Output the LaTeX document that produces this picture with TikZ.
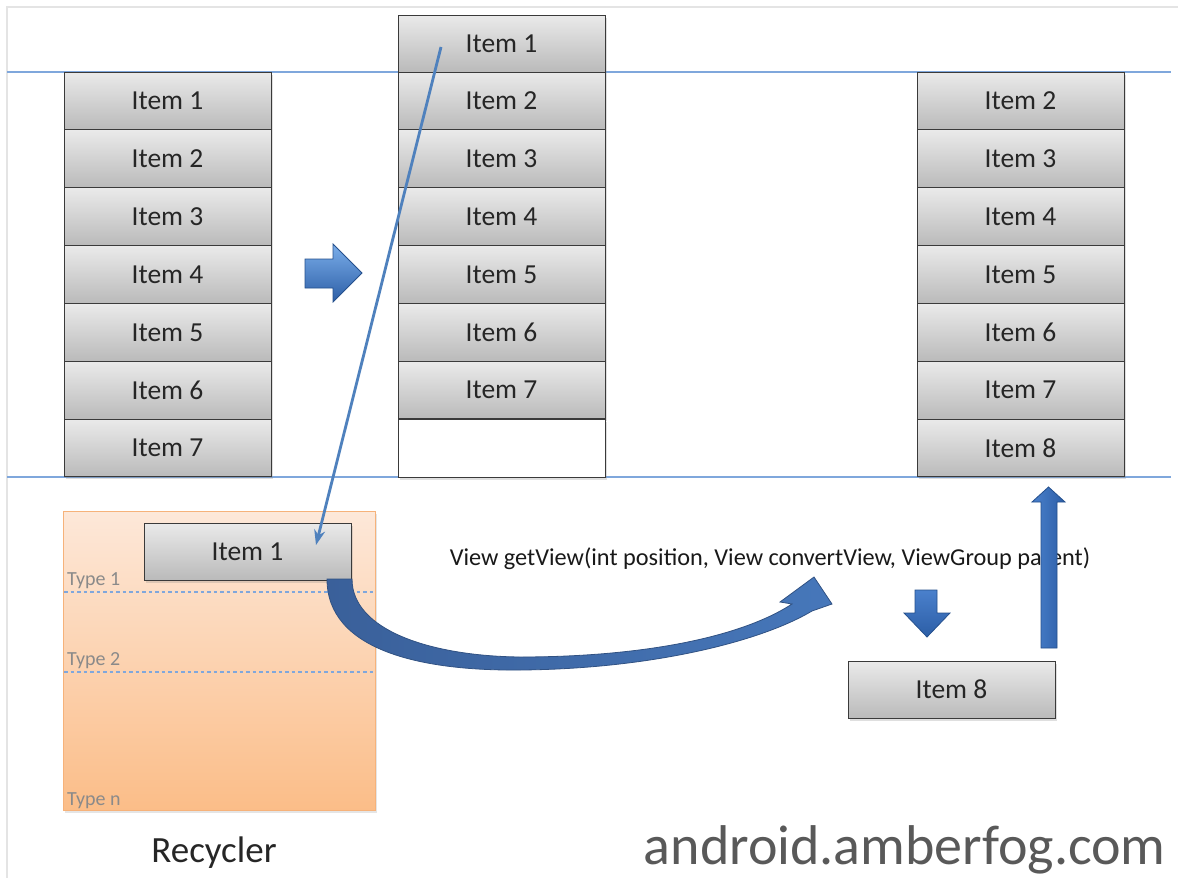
\documentclass[tikz,border=0pt]{standalone}
\usepackage{fontspec}
\setmainfont{Carlito}
\usetikzlibrary{shadows,arrows.meta}

\definecolor{guide}{HTML}{7FA7DC}
\definecolor{framegray}{HTML}{E4E4E4}
\definecolor{itemtop}{HTML}{EAEAEA}
\definecolor{itembot}{HTML}{BABABA}
\definecolor{itemedge}{HTML}{3A3A3A}
\definecolor{recedge}{HTML}{F6B27A}
\definecolor{rectop}{HTML}{FDE8D9}
\definecolor{recbot}{HTML}{FBBD88}
\definecolor{typegray}{HTML}{8A8A8A}
\definecolor{linkblue}{HTML}{4F81BD}
\definecolor{arrowlight}{HTML}{7BAEEA}
\definecolor{arrowmid}{HTML}{4A80CC}
\definecolor{arrowdark}{HTML}{2C5EA6}
\definecolor{curvedark}{HTML}{3A609A}
\definecolor{curvelight}{HTML}{4677BA}
\definecolor{sitegray}{HTML}{595959}

\begin{document}
\begin{tikzpicture}[x=1pt,y=-1pt,
  item/.style={draw=itemedge, line width=1pt, top color=itemtop, bottom color=itembot,
    minimum width=207pt, minimum height=57.8pt, inner sep=0pt,
    font=\fontsize{27.5}{30}\selectfont, text=black!85,
    drop shadow={shadow xshift=1.5pt, shadow yshift=-2.5pt, opacity=0.25}},
  typelbl/.style={anchor=base west, inner sep=0pt, text=typegray, font=\fontsize{20}{24}\selectfont},
  blockarrow/.style={draw=arrowdark!85!black, line width=0.8pt, top color=arrowlight, bottom color=arrowdark},
]
\useasboundingbox (0,0) rectangle (1178,878);
\fill[white] (0,0) rectangle (1178,878);

% page frame and viewport guides
\draw[framegray, line width=2pt] (7,878) -- (7,7) -- (1178,7);
\draw[guide, line width=1.2pt] (7,72) -- (1171,72);
\draw[guide, line width=1.2pt] (7,477) -- (1171,477);

% list before scrolling
\foreach \i in {1,...,7}
  \node[item] (l\i) at (167.5,{72+57.857*(\i-0.5)}) {Item \i};

% list while scrolling
\node[item, minimum height=57pt] (m1) at (501.5,43.5) {Item 1};
\foreach \i in {2,...,7}
  \node[item] (m\i) at (501.5,{72+57.83*(\i-1.5)}) {Item \i};
\node[draw=itemedge, line width=1pt, fill=white, minimum width=207pt, minimum height=58pt,
  inner sep=0pt, drop shadow={shadow xshift=1.5pt, shadow yshift=-2.5pt, opacity=0.25}] (mb) at (501.5,448) {};

% list after scrolling
\foreach \i in {2,...,8}
  \node[item] (r\i) at (1020.5,{72+57.857*(\i-1.5)}) {Item \i};

% scroll arrow
\path[blockarrow] (305,259) -- (333,259) -- (333,244) -- (362,273) -- (333,302) -- (333,288) -- (305,288) -- cycle;

% recycler
\node[draw=recedge, line width=1pt, top color=rectop, bottom color=recbot,
  minimum width=312pt, minimum height=299pt, inner sep=0pt, anchor=north west,
  drop shadow={shadow xshift=1.5pt, shadow yshift=-2.5pt, opacity=0.2}] (rec) at (63,511) {};
\draw[guide, line width=1.2pt, dash pattern=on 3.5pt off 3pt] (64,592) -- (374,592);
\draw[guide, line width=1.2pt, dash pattern=on 3.5pt off 3pt] (64,672) -- (374,672);
\node[typelbl] (t1) at (67,585) {Type 1};
\node[typelbl] (t2) at (67,665) {Type 2};
\node[typelbl] (tn) at (67,805) {Type n};
\node[item, minimum height=57pt] (ri) at (247.5,551.5) {Item 1};
\node[anchor=base, inner sep=0pt, font=\fontsize{37}{40}\selectfont, text=black!85] (reclbl) at (214,862) {Recycler};

% reuse arrow from the recycler to getView
\path[draw=curvedark!85!black, line width=0.8pt, left color=curvedark, right color=curvelight]
  (327,579) .. controls (327,650) and (420,671) .. (520,670)
  .. controls (650,669) and (760,642) .. (812,611)
  -- (832,604) -- (814,577) -- (780,602) -- (792,604)
  .. controls (740,638) and (640,657) .. (520,657)
  .. controls (430,656) and (352,630) .. (352,579) -- cycle;

\node[anchor=base, inner sep=0pt, font=\fontsize{24.3}{28}\selectfont, text=black!90] (gv) at (770,565)
  {View getView(int position, View convertView, ViewGroup parent)};

% getView result and its way into the list
\path[blockarrow, top color=arrowmid, bottom color=arrowdark]
  (915,590) -- (937,590) -- (937,613) -- (950,613) -- (927,637) -- (904,613) -- (915,613) -- cycle;
\node[item, minimum height=57pt] (n8) at (951.5,689.5) {Item 8};
\path[draw=arrowdark!85!black, line width=0.8pt, left color=arrowmid, middle color=arrowlight!80!arrowmid, right color=arrowdark]
  (1041,648) -- (1041,502) -- (1032,502) -- (1048.5,487) -- (1065,502) -- (1057,502) -- (1057,648) -- cycle;

% recycled view path
\coordinate (p1) at (441,47);
\coordinate (p2) at (316,545);
\draw[linkblue, line width=2.8pt, -{Stealth[length=15pt,width=11pt]}] (p1) -- (p2);

\node[anchor=base east, inner sep=0pt, text=sitegray, font=\fontsize{56}{60}\selectfont] (site) at (1166,864) {android.amberfog.com};
\end{tikzpicture}
\end{document}
